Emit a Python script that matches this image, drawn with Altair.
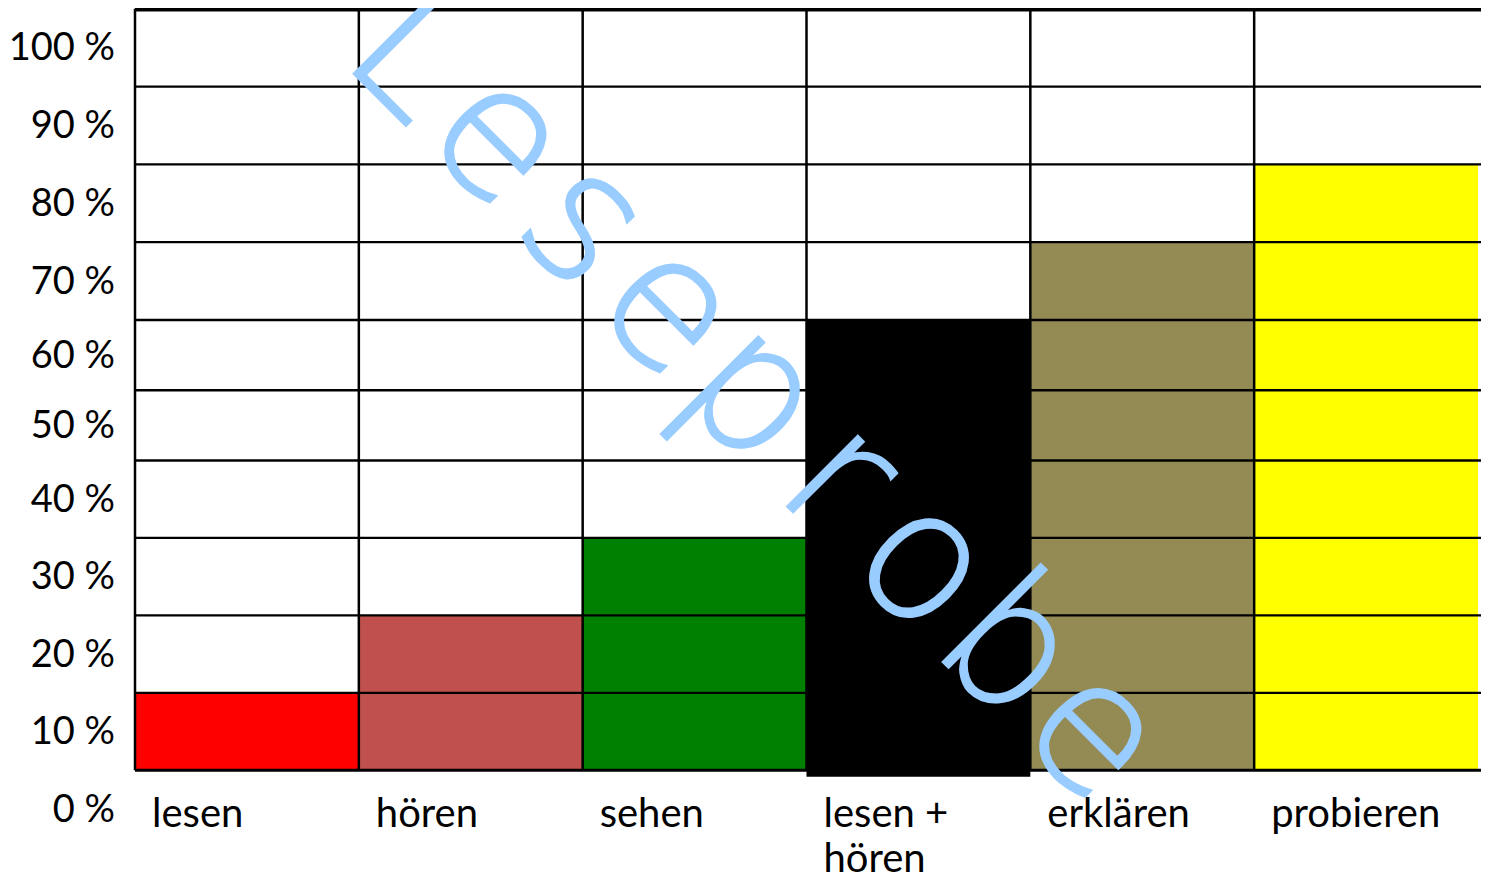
import altair as alt
import pandas as pd

# ---- data ----
categories = ["lesen", "hören", "sehen", "lesen + hören", "erklären", "probieren"]
category_labels = ["lesen", "hören", "sehen", "lesen +\nhören", "erklären", "probieren"]
values = [10, 20, 30, 60, 70, 80]
bar_base = [0, 0, 0, -0.85, 0, 0]
bar_colors = ["#FF0000", "#C0504D", "#008000", "#000000", "#948A54", "#FFFF00"]
tick_values = [0, 10, 20, 30, 40, 50, 60, 70, 80, 90, 100]
tick_labels = ["0 %", "10 %", "20 %", "30 %", "40 %", "50 %", "60 %", "70 %", "80 %", "90 %", "100 %"]
watermark_text = "Leseprobe"

# ---- layout ----
W_PLOT = 1346
H_PLOT = 762
xscale = alt.Scale(domain=categories, range=[0, 1343], paddingInner=0, paddingOuter=0)
yscale = alt.Scale(domain=[0, 40, 60, 100], range=[762.2, 452.5, 312, 0.8],
                   zero=False, nice=False)

bars_df = pd.DataFrame({"cat": categories, "value": values, "base": bar_base,
                        "color": bar_colors, "label": category_labels})
ticks_df = pd.DataFrame({"v": tick_values, "label": tick_labels})
vlines_df = pd.DataFrame({"cat": categories, "top": [100] * len(categories),
                          "bottom": [0] * len(categories)})
wm_df = pd.DataFrame({"ch": list(watermark_text), "idx": list(range(len(watermark_text)))})

X = lambda **kw: alt.X("cat:N", scale=xscale, axis=None, **kw)

bars = alt.Chart(bars_df).mark_bar(cornerRadius=0).encode(
    x=X(),
    y=alt.Y("value:Q", scale=yscale, axis=None),
    y2="base:Q",
    color=alt.Color("color:N", scale=None),
)

grid = alt.Chart(ticks_df).transform_filter(
    (alt.datum.v > 0) & (alt.datum.v < 100)
).mark_rule(color="black", strokeWidth=2.3).encode(
    y=alt.Y("v:Q", scale=yscale, axis=None),
    x=alt.value(0), x2=alt.value(W_PLOT),
)
baseline = alt.Chart(ticks_df).transform_filter(alt.datum.v == 0).mark_rule(
    color="black", strokeWidth=3).encode(
    y=alt.Y("v:Q", scale=yscale, axis=None),
    x=alt.value(0), x2=alt.value(W_PLOT),
)
topline = alt.Chart(ticks_df).transform_filter(alt.datum.v == 100).mark_rule(
    color="black", strokeWidth=5.5).encode(
    y=alt.Y("v:Q", scale=yscale, axis=None),
    x=alt.value(0), x2=alt.value(W_PLOT),
)
vlines = alt.Chart(vlines_df).mark_rule(color="black", strokeWidth=2.5).encode(
    x=X(bandPosition=0),
    y=alt.Y("top:Q", scale=yscale, axis=None),
    y2="bottom:Q",
)

ylabels = alt.Chart(ticks_df).transform_calculate(pos="datum.v - 5").mark_text(
    align="right", baseline="alphabetic", font="Lato", fontSize=38, color="black", dy=12.6
).encode(
    y=alt.Y("pos:Q", scale=yscale, axis=None),
    x=alt.value(-20),
    text="label:N",
)

xlabels = alt.Chart(bars_df).mark_text(
    align="left", baseline="alphabetic", font="Lato", fontSize=40, color="black",
    dx=17, lineBreak="\n", lineHeight=45
).encode(
    x=X(bandPosition=0),
    y=alt.value(819),
    text="label:N",
)

main = alt.layer(bars, grid, baseline, topline, vlines, ylabels, xlabels)

watermark = alt.Chart(wm_df).mark_text(
    angle=45, align="center", baseline="alphabetic", font="DejaVu Sans",
    fontWeight=200, fontSize=182, color="#99CCFF",
    stroke="#99CCFF", strokeWidth=2.5
).encode(
    x=alt.X("idx:Q", scale=alt.Scale(domain=[0, 8], range=[239.2, 919.2], zero=False, nice=False), axis=None),
    y=alt.Y("idx:Q", scale=alt.Scale(domain=[0, 8], range=[85.8, 765], zero=False, nice=False), axis=None),
    text="ch:N",
)

chart = alt.layer(main, watermark).resolve_scale(
    x="independent", y="independent"
).properties(
    width=W_PLOT, height=H_PLOT,
    padding={"left": 127, "top": 0, "right": 0, "bottom": 105},
    autosize=alt.AutoSizeParams(type="none"),
    background="white",
).configure_view(strokeWidth=0)

chart.save("out.html", embed_options={"renderer": "svg", "actions": False})
